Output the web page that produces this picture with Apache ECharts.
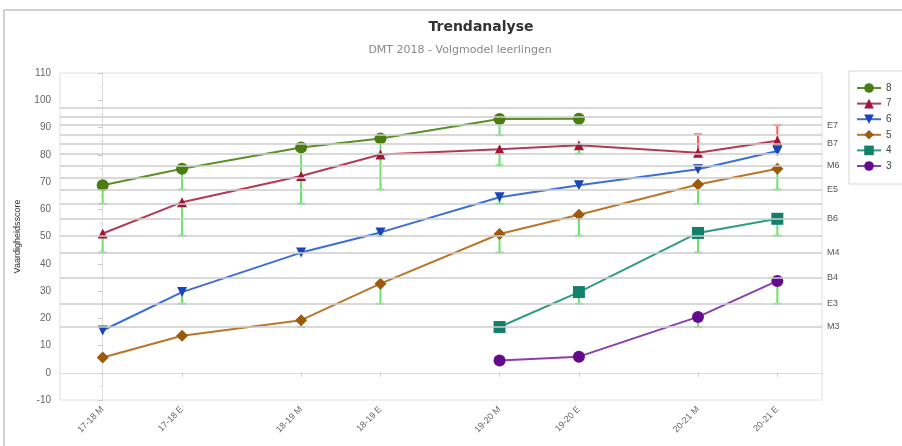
<!DOCTYPE html>
<html><head><meta charset="utf-8">
<script src="https://cdn.jsdelivr.net/npm/echarts@6.0.0/dist/echarts.min.js"></script>
<style>html,body{margin:0;padding:0;background:#fff}#c{width:902px;height:446px}</style>
</head><body><div id="c"></div>
<script>
// ---- data ----
const periods = ['17-18 M','17-18 E','18-19 M','18-19 E','19-20 M','19-20 E','20-21 M','20-21 E'];
const periodTime = [0, 0.4, 1, 1.4, 2, 2.4, 3, 3.4]; // school years since 17-18 M
const seriesNames = ['8','7','6','5','4','3'];
const s8 = [68.8, 74.9, 82.7, 86.0, 93.1, 93.2, null, null];
const s7 = [51.1, 62.6, 72.2, 80.1, 82.0, 83.5, 80.7, 85.1];
const s6 = [15.5, 29.6, 44.1, 51.5, 64.4, 68.8, 74.7, 81.4];
const s5 = [5.6, 13.6, 19.3, 32.7, 50.9, 58.0, 69.1, 74.9];
const s4 = [null, null, null, null, 16.8, 29.6, 51.3, 56.5];
const s3 = [null, null, null, null, 4.5, 5.9, 20.5, 33.7];
// level reference lines
const levelValues = [97.1, 94.0, 90.9, 87.2, 84.1, 80.4, 76.1, 71.6, 67.2, 62.0, 56.5, 50.3, 44.1, 34.9, 25.3, 16.8];
const levelNames  = ['', '', 'E7', '', 'B7', '', 'M6', '', 'E5', '', 'B6', '', 'M4', 'B4', 'E3', 'M3'];
// error bars: [periodIndex, from, to]
const greenBars = [
  [0,68.8,62.0],[1,74.9,67.2],[2,82.7,62.0],[3,86.0,80.1],[4,93.1,87.2],[5,93.2,90.9],
  [0,51.1,44.1],[1,62.6,50.3],[2,72.2,62.0],[3,80.1,67.2],[4,82.0,76.1],[5,83.5,80.4],
  [1,29.6,25.3],[3,51.5,50.3],[4,64.4,62.0],
  [2,19.3,16.8],[3,32.7,25.3],[4,50.9,44.1],[5,58.0,50.3],[6,69.1,62.0],[7,74.9,67.2],
  [5,29.6,25.3],[6,51.3,44.1],[7,56.5,50.3],
  [6,20.5,16.8],[7,33.7,25.3]
];
const redBars = [[6,80.7,87.5],[7,85.1,90.9],[0,15.5,16.8],[6,74.7,76.1]];
const yTicks = {min:-10, max:110, step:10};

// ---- chart ----
const lineColors = ['#5a8f29','#b23a55','#3b6fd4','#b8772a','#2f9c82','#8b3fae'];
const markColors = ['#4a7c12','#a0153a','#1a45b8','#9c5a0c','#14806a','#640a8c'];
const symbols = ['circle','triangle','triangle','diamond','rect','circle'];
const symRot = [0,0,180,0,0,0];
const symSize = [12,10,10,12,12,12];
const allData = [s8,s7,s6,s5,s4,s3];

const chart = echarts.init(document.getElementById('c'), null, {renderer:'canvas'});

function barSeries(list, color){
  return {
    type:'custom', silent:true, z:1,
    data: list.map(b => [periodTime[b[0]], b[1], b[2]]),
    encode:{x:0, y:[1,2]},
    renderItem:function(params, api){
      const p1 = api.coord([api.value(0), api.value(1)]);
      const p2 = api.coord([api.value(0), api.value(2)]);
      const hw = 4;
      const st = {stroke:color, lineWidth:2};
      return {type:'group', children:[
        {type:'line', shape:{x1:p1[0],y1:p1[1],x2:p2[0],y2:p2[1]}, style:st},
        {type:'line', shape:{x1:p2[0]-hw,y1:p2[1],x2:p2[0]+hw,y2:p2[1]}, style:st}
      ]};
    }
  };
}

const series = [];
series.push({
  type:'line', data:[], silent:true, z:0,
  markLine:{
    silent:true, symbol:['none','none'], animation:false,
    lineStyle:{color:'#cccccc', width:1.6, type:'solid'},
    label:{show:true, position:'end', distance:5, color:'#555', fontSize:9, fontFamily:'Liberation Sans',
      formatter:function(p){ return levelNames[p.dataIndex] || ''; }},
    data: levelValues.map(v => ({yAxis:v}))
  }
});
series.push(barSeries(greenBars, '#6ee06e'));
series.push(barSeries(redBars, '#ff5a5a'));
allData.forEach((d,i)=>{
  series.push({
    name:seriesNames[i], type:'line', z:3,
    data: d.map((v,j)=> [periodTime[j], v]),
    connectNulls:false,
    symbol:symbols[i], symbolRotate:symRot[i], symbolSize:symSize[i], showSymbol:true,
    lineStyle:{color:lineColors[i], width:2},
    itemStyle:{color:markColors[i]},
    animation:false
  });
});

chart.setOption({
  animation:false,
  textStyle:{fontFamily:'Liberation Sans'},
  graphic:[
    {type:'rect', shape:{x:4,y:10,width:1000,height:500}, style:{fill:'none', stroke:'#c4c4c4', lineWidth:1.5}, silent:true},
    {type:'text', x:481, y:27, style:{text:'Trendanalyse', font:'bold 14px DejaVu Sans', fill:'#333', align:'center', verticalAlign:'middle'}},
    {type:'text', x:460, y:50, style:{text:'DMT 2018 - Volgmodel leerlingen', font:'11px DejaVu Sans', fill:'#888', align:'center', verticalAlign:'middle'}}
  ],
  legend:{
    orient:'vertical', left:849, top:71,
    data:seriesNames,
    padding:[12,11,13,7], itemGap:5.6, itemWidth:24, itemHeight:12,
    borderColor:'#d6d6d6', borderWidth:1,
    textStyle:{fontSize:10, color:'#444', fontFamily:'Liberation Sans'}
  },
  grid:{left:60, top:73, right:80, bottom:46, show:true, borderColor:'#e0e0e0', borderWidth:1},
  xAxis:{
    type:'value', min:-0.215, max:3.625,
    splitLine:{show:false},
    axisLine:{show:true, lineStyle:{color:'#ddd'}},
    axisTick:{show:true, customValues:periodTime, length:4, lineStyle:{color:'#ccc'}},
    axisLabel:{customValues:periodTime, rotate:45, fontSize:9, color:'#666', margin:8,
      formatter:function(v){ const i = periodTime.findIndex(t=>Math.abs(t-v)<1e-6); return i>=0?periods[i]:''; }}
  },
  yAxis:{
    type:'value', min:yTicks.min, max:yTicks.max, interval:yTicks.step,
    name:'Vaardigheidsscore', nameLocation:'middle', nameGap:38, nameRotate:90,
    nameTextStyle:{fontSize:9, color:'#333'},
    splitLine:{show:false},
    axisLine:{show:true, lineStyle:{color:'#ddd'}},
    axisTick:{show:true, length:5, lineStyle:{color:'#ccc'}},
    minorTick:{show:true, splitNumber:2, length:3, lineStyle:{color:'#ddd'}},
    axisLabel:{fontSize:10, color:'#666', margin:9}
  },
  series:series
});
</script></body></html>
